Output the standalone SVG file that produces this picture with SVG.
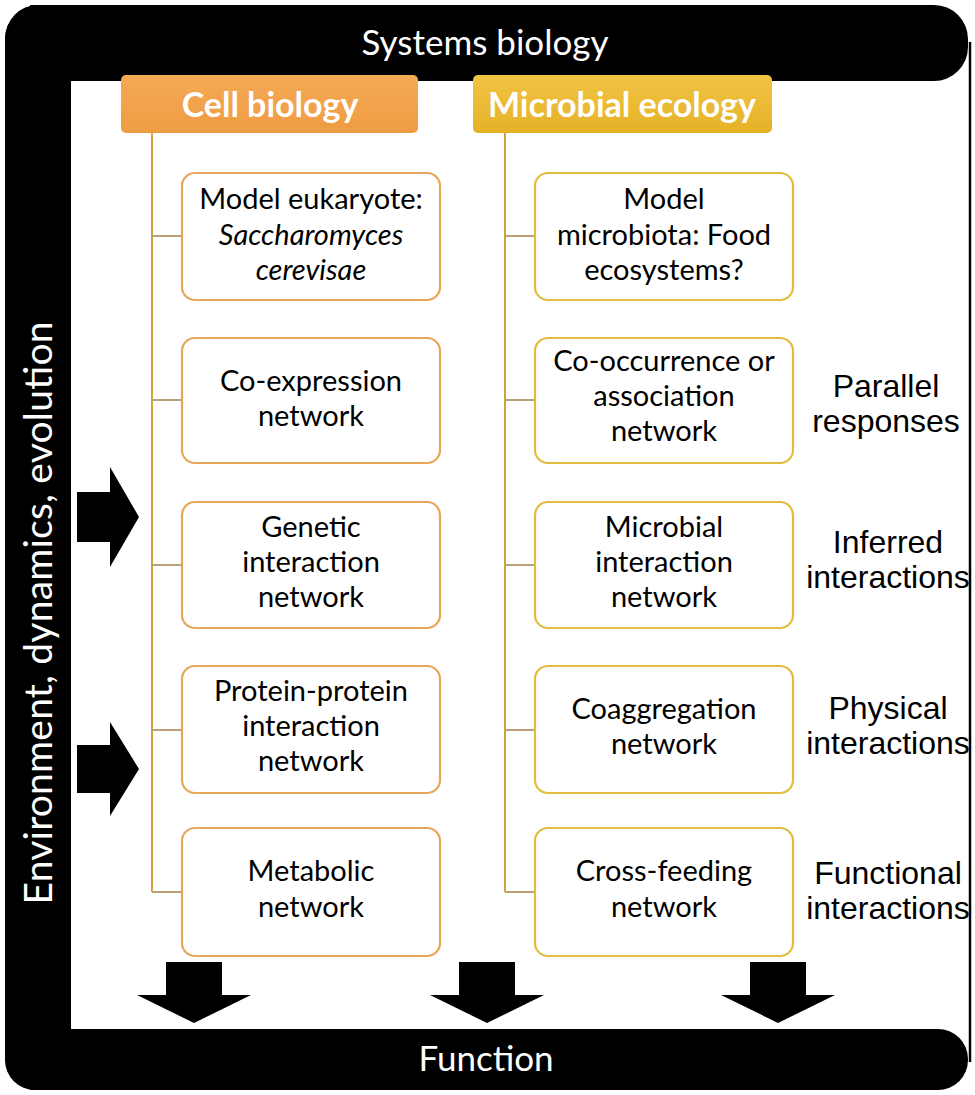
<svg xmlns="http://www.w3.org/2000/svg" width="975" height="1095" viewBox="0 0 975 1095">
<defs>
<linearGradient id="gOrange" x1="0" y1="0" x2="0" y2="1"><stop offset="0" stop-color="#F5AA55"/><stop offset="1" stop-color="#EE9C42"/></linearGradient>
<linearGradient id="gYellow" x1="0" y1="0" x2="0" y2="1"><stop offset="0" stop-color="#F1C446"/><stop offset="1" stop-color="#E6B126"/></linearGradient>
<style>
.bar{fill:#000}
.bartxt{font-family:Lato,"Liberation Sans",sans-serif;font-size:35px;fill:#fff;text-anchor:middle}
.envtxt{font-family:Lato,"Liberation Sans",sans-serif;font-size:39px;fill:#fff;text-anchor:middle}
.hdrtxt{font-family:Lato,"Liberation Sans",sans-serif;font-size:34px;font-weight:bold;fill:#fff;text-anchor:middle}
.boxL{fill:#fff;stroke:#E9A65A;stroke-width:2.2}
.boxR{fill:#fff;stroke:#E2BC3C;stroke-width:2.2}
.btxt{font-family:Lato,"Liberation Sans",sans-serif;font-size:29px;fill:#000;text-anchor:middle}
.lbl{font-family:"Liberation Sans",Arial,sans-serif;font-size:32px;fill:#000;text-anchor:middle}
.vline{stroke:#CFA53A;stroke-width:2;fill:none}
.tick{stroke:#B9A27A;stroke-width:2;fill:none}
.arr{fill:#000}
</style>
</defs>
<rect width="975" height="1095" fill="#fff"/>

<g id="frame">
<rect class="bar" x="5" y="5" width="963" height="76" rx="34"/>
<rect class="bar" x="5" y="1029" width="963" height="61" rx="30"/>
<rect class="bar" x="5" y="5" width="66" height="1085" rx="34"/>
<rect class="bar" x="30" y="5" width="41" height="1085"/>
<rect class="bar" x="5" y="40" width="66" height="1010"/>
<line x1="970" y1="42" x2="970" y2="1062" stroke="#000" stroke-width="2.5"/>
</g>

<g id="systems-biology"><text class="bartxt" x="485" y="55">Systems biology</text></g>
<g id="function"><text class="bartxt" x="486" y="1071">Function</text></g>
<g id="environment"><text class="envtxt" transform="translate(52,613) rotate(-90)" x="0" y="0" textLength="583" lengthAdjust="spacing">Environment, dynamics, evolution</text></g>

<g id="connectors">
<line class="vline" x1="152" y1="133" x2="152" y2="892"/>
<line class="vline" x1="505" y1="133" x2="505" y2="892"/>
<line class="tick" x1="152" y1="236" x2="182" y2="236"/>
<line class="tick" x1="152" y1="400" x2="182" y2="400"/>
<line class="tick" x1="152" y1="565" x2="182" y2="565"/>
<line class="tick" x1="152" y1="730" x2="182" y2="730"/>
<line class="tick" x1="152" y1="892" x2="182" y2="892"/>
<line class="tick" x1="505" y1="236" x2="535" y2="236"/>
<line class="tick" x1="505" y1="400" x2="535" y2="400"/>
<line class="tick" x1="505" y1="565" x2="535" y2="565"/>
<line class="tick" x1="505" y1="730" x2="535" y2="730"/>
<line class="tick" x1="505" y1="892" x2="535" y2="892"/>
</g>

<g id="arrows">
<polygon class="arr" points="77,492 110,492 110,467 139,517 110,567 110,542 77,542"/>
<polygon class="arr" points="77,745 110,745 110,722 139,769 110,816 110,793 77,793"/>
<polygon class="arr" points="166,962 222,962 222,995 251,995 194,1023 137,995 166,995"/>
<polygon class="arr" points="459,962 515,962 515,995 544,995 487,1023 430,995 459,995"/>
<polygon class="arr" points="750,962 806,962 806,995 835,995 778,1023 721,995 750,995"/>
</g>

<g id="hdr-cell">
<rect x="121" y="75" width="297" height="58" rx="5" fill="url(#gOrange)"/>
<text class="hdrtxt" x="270" y="117">Cell biology</text>
</g>
<g id="hdr-micro">
<rect x="473" y="75" width="299" height="58" rx="5" fill="url(#gYellow)"/>
<text class="hdrtxt" x="622" y="117">Microbial ecology</text>
</g>

<g id="L1"><rect class="boxL" x="182" y="173" width="258" height="127" rx="13"/>
<text class="btxt" x="311" y="209">Model eukaryote:</text>
<text class="btxt" x="311" y="245" font-style="italic">Saccharomyces</text>
<text class="btxt" x="311" y="280" font-style="italic">cerevisae</text></g>
<g id="L2"><rect class="boxL" x="182" y="338" width="258" height="125" rx="13"/>
<text class="btxt" x="311" y="391">Co-expression</text>
<text class="btxt" x="311" y="426">network</text></g>
<g id="L3"><rect class="boxL" x="182" y="502" width="258" height="126" rx="13"/>
<text class="btxt" x="311" y="537">Genetic</text>
<text class="btxt" x="311" y="572">interaction</text>
<text class="btxt" x="311" y="607">network</text></g>
<g id="L4"><rect class="boxL" x="182" y="666" width="258" height="127" rx="13"/>
<text class="btxt" x="311" y="701">Protein-protein</text>
<text class="btxt" x="311" y="736">interaction</text>
<text class="btxt" x="311" y="771">network</text></g>
<g id="L5"><rect class="boxL" x="182" y="828" width="258" height="128" rx="13"/>
<text class="btxt" x="311" y="881">Metabolic</text>
<text class="btxt" x="311" y="917">network</text></g>

<g id="R1"><rect class="boxR" x="535" y="173" width="258" height="127" rx="13"/>
<text class="btxt" x="664" y="209">Model</text>
<text class="btxt" x="664" y="245">microbiota: Food</text>
<text class="btxt" x="664" y="280">ecosystems?</text></g>
<g id="R2"><rect class="boxR" x="535" y="338" width="258" height="125" rx="13"/>
<text class="btxt" x="664" y="371">Co-occurrence or</text>
<text class="btxt" x="664" y="406">association</text>
<text class="btxt" x="664" y="441">network</text></g>
<g id="R3"><rect class="boxR" x="535" y="502" width="258" height="126" rx="13"/>
<text class="btxt" x="664" y="537">Microbial</text>
<text class="btxt" x="664" y="572">interaction</text>
<text class="btxt" x="664" y="607">network</text></g>
<g id="R4"><rect class="boxR" x="535" y="666" width="258" height="127" rx="13"/>
<text class="btxt" x="664" y="719">Coaggregation</text>
<text class="btxt" x="664" y="754">network</text></g>
<g id="R5"><rect class="boxR" x="535" y="828" width="258" height="128" rx="13"/>
<text class="btxt" x="664" y="881">Cross-feeding</text>
<text class="btxt" x="664" y="917">network</text></g>

<g id="labels">
<text class="lbl" x="886" y="397">Parallel</text>
<text class="lbl" x="886" y="432">responses</text>
<text class="lbl" x="888" y="553">Inferred</text>
<text class="lbl" x="888" y="588">interactions</text>
<text class="lbl" x="888" y="719">Physical</text>
<text class="lbl" x="888" y="754">interactions</text>
<text class="lbl" x="888" y="884">Functional</text>
<text class="lbl" x="888" y="919">interactions</text>
</g>
</svg>
